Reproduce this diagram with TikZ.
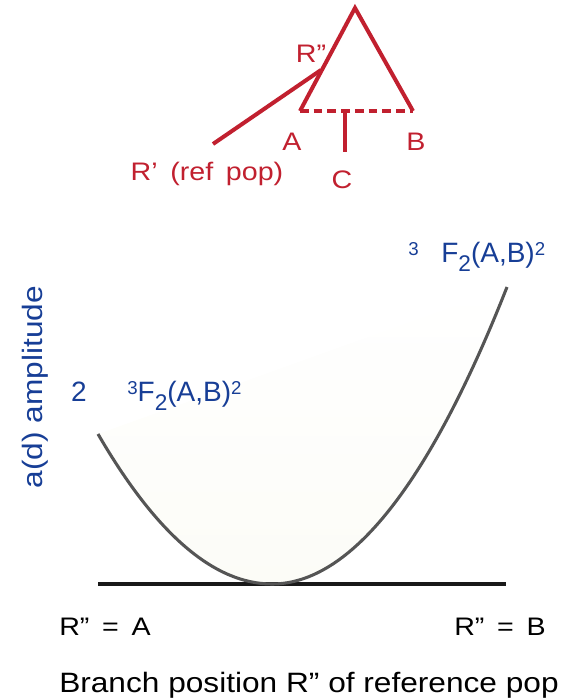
\documentclass[tikz,border=0pt]{standalone}
\usepackage{fontspec}
\setmainfont{Liberation Sans}
\newfontfamily\widefont{Liberation Sans}[FakeStretch=1.13]
\newfontfamily\titlefont{Liberation Sans}[FakeStretch=1.13]
\definecolor{treered}{HTML}{C1202F}
\definecolor{labblue}{HTML}{173E96}
\definecolor{curvegray}{HTML}{555555}
\definecolor{faintfill}{HTML}{FCFCF7}
\newcommand\mysub[1]{\raisebox{-6.75pt}{\fontsize{17}{17}\selectfont #1}}
\newcommand\mysup[1]{\raisebox{5pt}{\fontsize{14}{14}\selectfont #1}}
\newcommand\wsp{\hspace{0.5em}}
\begin{document}
\begin{tikzpicture}[x=0.75pt,y=-0.75pt,
  tree/.style={draw=treered,line width=3pt},
  redlab/.style={text=treered,font=\widefont\fontsize{19}{19}\selectfont,inner sep=0pt,anchor=base},
  bluelab/.style={text=labblue,font=\fontsize{21}{21}\selectfont,inner sep=0pt,anchor=base west},
  blacklab/.style={text=black,font=\widefont\fontsize{19}{19}\selectfont,inner sep=0pt,anchor=base}]
\useasboundingbox (0,0) rectangle (563,700);
% tree
\coordinate (apex) at (355,8);
\coordinate (tA) at (300,111);
\coordinate (tB) at (413,111);
\coordinate (tR) at (321,70);
\coordinate (tRp) at (213,144);
\coordinate (tC) at (345,111);
\coordinate (tCe) at (345,152);
\draw[tree,miter limit=20] (tA) -- (apex) -- (tB);
\draw[tree] (tR) -- (tRp);
\draw[tree,dash pattern=on 6.5pt off 3.8pt] (tA) -- (tB);
\draw[tree] (tC) -- (tCe);
\node[redlab] (lR) at (311,62) {R”};
\node[redlab] (lA) at (292,150) {A};
\node[redlab] (lB) at (416,150) {B};
\node[redlab] (lC) at (342,188) {C};
\node[redlab] (lRp) at (207,180) {R’\wsp(ref\wsp pop)};
% curve
\coordinate (cL) at (98,434);
\coordinate (cM) at (272,584);
\coordinate (cR) at (507,287);
\shade[top color=white,bottom color=faintfill] (cL) .. controls (156,534) and (214,584) .. (cM) .. controls (350,584) and (429,485) .. (cR) -- cycle;
\coordinate (bL) at (98,584);
\coordinate (bR) at (506,584);
\draw[line width=2.6pt,black!90] (bL) -- (bR);
\draw[line width=2.3pt,curvegray] (cL) .. controls (156,534) and (214,584) .. (cM) .. controls (350,584) and (429,485) .. (cR);
% blue labels
\node[bluelab,anchor=base] (two) at (79,401) {2};
\node[bluelab] (fl) at (127,401) {\mysup{3}F\mysub{2}(A,B)\mysup{2}};
\node[bluelab] (fr) at (408,262) {\mysup{3}\hspace{17pt}F\mysub{2}(A,B)\mysup{2}};
\node[bluelab,font=\titlefont\fontsize{21}{21}\selectfont,anchor=base,rotate=90] (ylab) at (42,387) {a(d) amplitude};
% bottom labels
\node[blacklab] (xa) at (105,635) {R”\wsp=\wsp A};
\node[blacklab] (xb) at (500,635) {R”\wsp=\wsp B};
\node[blacklab,font=\titlefont\fontsize{21}{21}\selectfont] (xt) at (309,692) {Branch position R” of reference pop};
\end{tikzpicture}
\end{document}
